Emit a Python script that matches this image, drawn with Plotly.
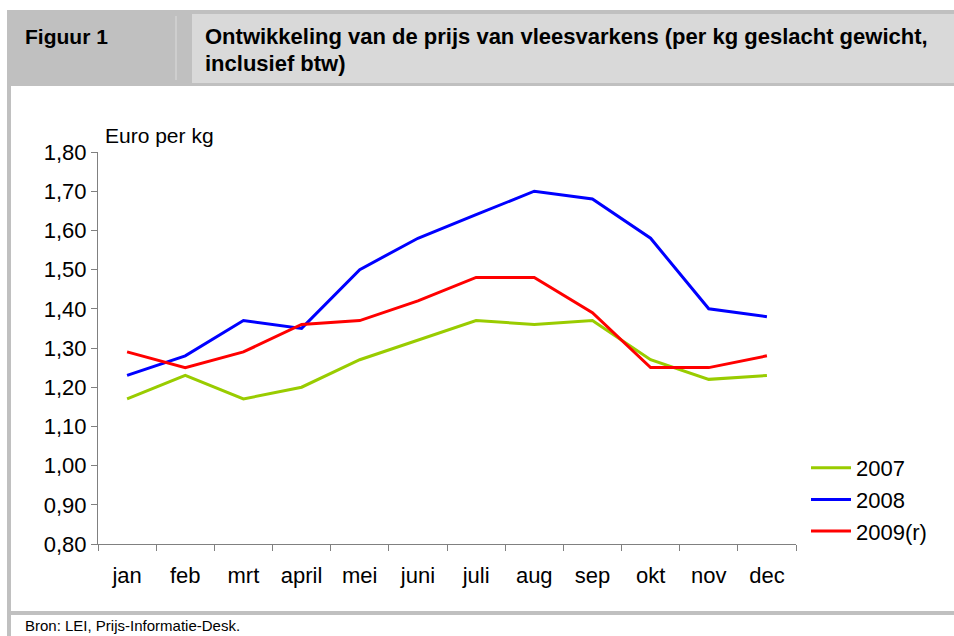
import plotly.graph_objects as go

months = ["jan", "feb", "mrt", "april", "mei", "juni", "juli", "aug", "sep", "okt", "nov", "dec"]
y2007 = [1.17, 1.23, 1.17, 1.20, 1.27, 1.32, 1.37, 1.36, 1.37, 1.27, 1.22, 1.23]
y2008 = [1.23, 1.28, 1.37, 1.35, 1.50, 1.58, 1.64, 1.70, 1.68, 1.58, 1.40, 1.38]
y2009 = [1.29, 1.25, 1.29, 1.36, 1.37, 1.42, 1.48, 1.48, 1.39, 1.25, 1.25, 1.28]

W, H = 954, 636
L, R, T, B = 98, 796, 152, 544

def px(x):
    return (x - L) / (R - L)

def py(y):
    return (B - y) / (B - T)

FONT = "Liberation Sans, Arial, sans-serif"

fig = go.Figure()
for name, vals, col in [("2007", y2007, "#99cc00"), ("2008", y2008, "#0000ff"), ("2009(r)", y2009, "#ff0000")]:
    fig.add_trace(go.Scatter(x=months, y=vals, name=name, mode="lines",
                             line=dict(color=col, width=3)))

shapes = []
gray = "#c0c0c0"
light = "#d9d9d9"
shapes.append(dict(type="rect", xref="paper", yref="paper", x0=px(7), x1=px(W + 5), y0=py(86), y1=py(10),
                   fillcolor=gray, line=dict(width=0), layer="below"))
shapes.append(dict(type="rect", xref="paper", yref="paper", x0=px(192), x1=px(W + 5), y0=py(83), y1=py(14),
                   fillcolor=light, line=dict(width=0), layer="below"))
shapes.append(dict(type="line", xref="paper", yref="paper", x0=px(176), x1=px(176), y0=py(80), y1=py(16),
                   line=dict(color="#dcdcdc", width=1), layer="below"))
shapes.append(dict(type="rect", xref="paper", yref="paper", x0=px(7), x1=px(11), y0=py(H + 5), y1=py(86),
                   fillcolor=gray, line=dict(width=0), layer="below"))
shapes.append(dict(type="rect", xref="paper", yref="paper", x0=px(7), x1=px(W + 5), y0=py(615), y1=py(611),
                   fillcolor=gray, line=dict(width=0), layer="below"))

annotations = [
    dict(text="<b>Figuur 1</b>", xref="paper", yref="paper", x=px(23), y=py(36), xanchor="left", yanchor="middle",
         showarrow=False, font=dict(family=FONT, size=21, color="#000")),
    dict(text="<b>Ontwikkeling van de prijs van vleesvarkens (per kg geslacht gewicht,</b>", xref="paper", yref="paper",
         x=px(203), y=py(36), xanchor="left", yanchor="middle", showarrow=False,
         font=dict(family=FONT, size=22, color="#000")),
    dict(text="<b>inclusief btw)</b>", xref="paper", yref="paper",
         x=px(203), y=py(64), xanchor="left", yanchor="middle", showarrow=False,
         font=dict(family=FONT, size=22, color="#000")),
    dict(text="Euro per kg", xref="paper", yref="paper", x=px(103), y=py(135), xanchor="left", yanchor="middle",
         showarrow=False, font=dict(family=FONT, size=21, color="#000")),
    dict(text="Bron: LEI, Prijs-Informatie-Desk.", xref="paper", yref="paper", x=px(23), y=py(625),
         xanchor="left", yanchor="middle", showarrow=False, font=dict(family=FONT, size=15, color="#000")),
]

fig.update_layout(
    width=W, height=H,
    margin=dict(l=L, r=W - R, t=T, b=H - B, pad=0),
    paper_bgcolor="white", plot_bgcolor="white",
    separators=",.",
    font=dict(family=FONT, size=22, color="#000"),
    showlegend=True,
    legend=dict(x=px(806), y=py(447), xanchor="left", yanchor="top", bgcolor="rgba(0,0,0,0)",
                font=dict(family=FONT, size=22), tracegroupgap=0, itemwidth=40),
    shapes=shapes, annotations=annotations,
    xaxis=dict(type="category", range=[-0.5, 11.5], showgrid=False, showline=True, linecolor="#808080", linewidth=1,
               ticks="outside", ticklen=6, tickcolor="#808080", tickson="boundaries",
               tickfont=dict(family=FONT, size=22), zeroline=False, ticklabelstandoff=12),
    yaxis=dict(range=[0.80, 1.80], dtick=0.1, tick0=0.8, tickformat=".2f", showgrid=False, showline=True,
               linecolor="#808080", linewidth=1, ticks="outside", ticklen=6, tickcolor="#808080",
               tickfont=dict(family=FONT, size=22), zeroline=False),
)

fig.write_html("out.html", config={"displayModeBar": False},
               post_script="document.body.style.margin='0';")
